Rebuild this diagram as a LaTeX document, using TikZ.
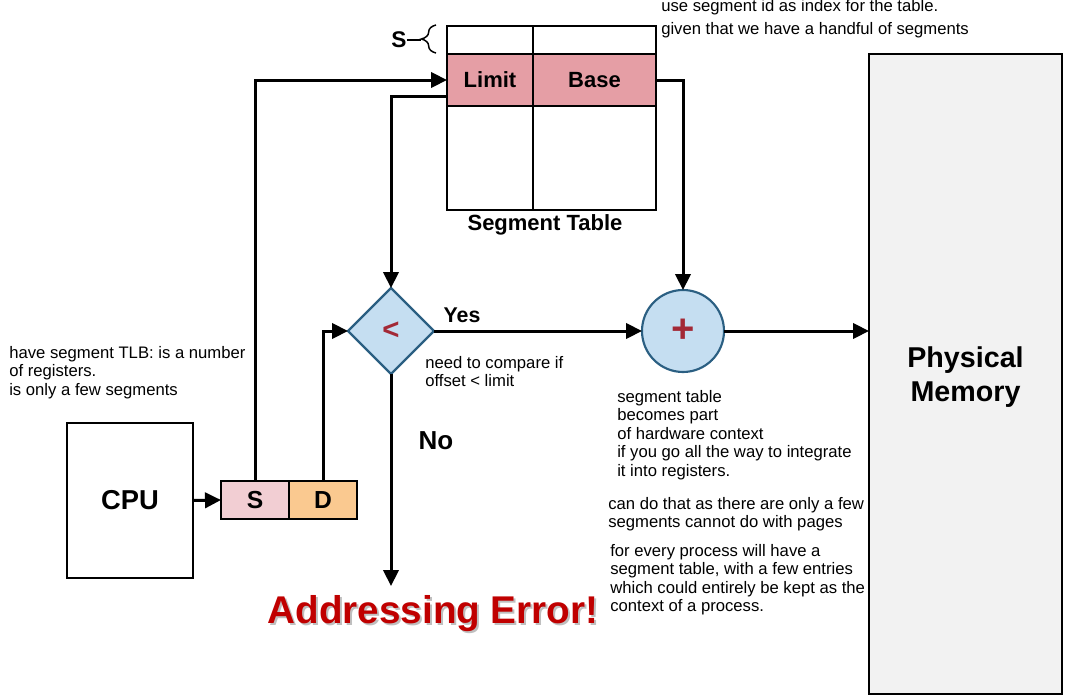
\documentclass[tikz,border=0pt]{standalone}
\usepackage{fontspec}
\setmainfont{Liberation Sans}
\usetikzlibrary{arrows.meta,shapes.geometric,decorations.pathreplacing}
\definecolor{rowpink}{HTML}{E59EA5}
\definecolor{spink}{HTML}{F2CED3}
\definecolor{dorange}{HTML}{FAC990}
\definecolor{opfill}{HTML}{C5DEF1}
\definecolor{opline}{HTML}{2B5F82}
\definecolor{opred}{HTML}{A32936}
\definecolor{memgray}{HTML}{F2F2F2}
\definecolor{errred}{HTML}{C00000}
\begin{document}
\begin{tikzpicture}[x=0.75pt,y=-0.75pt,
  arr/.style={line width=2.25pt,-{Triangle[length=12pt,width=11.5pt]}},
  cell/.style={draw, line width=2pt, inner sep=0pt, outer sep=0pt},
  box/.style={draw, line width=2pt, inner sep=0pt, outer sep=0pt},
  note/.style={anchor=north west, inner sep=0pt, align=left, font=\fontsize{12.5}{13.9}\selectfont},
  lbl/.style={inner sep=0pt, font=\bfseries\fontsize{16.5}{19}\selectfont},
  op/.style={draw=opline, fill=opfill, line width=1.6pt, inner sep=0pt, outer sep=0pt, text=opred}
]
\useasboundingbox (0,0) rectangle (1065,696);
% segment table
\node[cell, minimum width=64.5pt, minimum height=21pt] (t1) at (490,40) {};
\node[cell, minimum width=92.25pt, minimum height=21pt] (t2) at (594.5,40) {};
\node[cell, fill=rowpink, minimum width=64.5pt, minimum height=39pt, font=\bfseries\fontsize{16.5}{19}\selectfont] (limit) at (490,80) {Limit};
\node[cell, fill=rowpink, minimum width=92.25pt, minimum height=39pt, font=\bfseries\fontsize{16.5}{19}\selectfont] (base) at (594.5,80) {Base};
\node[cell, minimum width=64.5pt, minimum height=78pt] (t5) at (490,158) {};
\node[cell, minimum width=92.25pt, minimum height=78pt] (t6) at (594.5,158) {};
\node[lbl] (tlabel) at (545,225) {Segment Table};
% S brace
\node[lbl, font=\bfseries\fontsize{17}{19}\selectfont] (sidx) at (399,40) {S};
\draw[line width=1.1pt, decorate, decoration={brace, amplitude=11pt}] (436,53) -- (436,25);
\draw[line width=1.1pt] (sidx.east) -- (421,40);
% physical memory
\node[box, fill=memgray, minimum width=144.75pt, minimum height=480pt] (mem) at (965.5,374) {};
\node[inner sep=0pt, align=center, font=\bfseries\fontsize{21.5}{25.5}\selectfont] (memlabel) at (965.5,377) {Physical\\Memory};
% CPU and address
\node[box, minimum width=94.5pt, minimum height=116.25pt, font=\bfseries\fontsize{20.5}{24}\selectfont] (cpu) at (130,500.5) {CPU};
\node[box, fill=spink, minimum width=51pt, minimum height=28.5pt, font=\bfseries\fontsize{18.5}{22}\selectfont] (S) at (255,500) {S};
\node[box, fill=dorange, minimum width=51pt, minimum height=28.5pt, font=\bfseries\fontsize{18.5}{22}\selectfont] (D) at (323,500) {D};
% operators
\node[op, diamond, aspect=1, minimum width=64.5pt, minimum height=64.5pt, font=\bfseries\fontsize{22}{24}\selectfont] (dia) at (391,331) {<};
\node[op, circle, minimum size=61.5pt, font=\bfseries\fontsize{30}{32}\selectfont] (plus) at (683,331) {+};
% connectors
\draw[arr] (cpu.east) -- (S.west);
\draw[arr] (S.north) |- (limit.west);
\draw[arr] (D.north) |- (dia.west);
\draw[arr] ([yshift=7.5pt]limit.south west) -| (dia.north);
\draw[arr] (base.east) -| (plus.north);
\draw[arr] (dia.east) -- (plus.west);
\draw[arr] (plus.east) -- (plus.east -| mem.west);
\coordinate (errtip) at (391,586);
\draw[arr] (dia.south) -- (errtip);
% labels
\node[lbl, font=\bfseries\fontsize{16}{19}\selectfont] (yes) at (462,315) {Yes};
\node[lbl, font=\bfseries\fontsize{19.5}{22}\selectfont] (no) at (436,441) {No};
\node[inner sep=0pt, text=black!25, font=\bfseries\fontsize{29}{33}\selectfont] (errshadow) at (435,616) {Addressing Error!};
\node[inner sep=0pt, text=errred, font=\bfseries\fontsize{29}{33}\selectfont] (err) at (433,614) {Addressing Error!};
% notes
\node[note] (n1) at (661,-1) {use segment id as index for the table.};
\node[note] (n2) at (661,22) {given that we have a handful of segments};
\node[note] (n3) at (9,346) {have segment TLB: is a number\\of registers.\\is only a few segments};
\node[note] (n4) at (425,356) {need to compare if\\offset < limit};
\node[note] (n5) at (617,390) {segment table\\becomes part\\of hardware context\\if you go all the way to integrate\\it into registers.};
\node[note] (n6) at (608,497) {can do that as there are only a few\\segments cannot do with pages};
\node[note] (n7) at (610,544) {for every process will have a\\segment table, with a few entries\\which could entirely be kept as the\\context of a process.};
\end{tikzpicture}
\end{document}
